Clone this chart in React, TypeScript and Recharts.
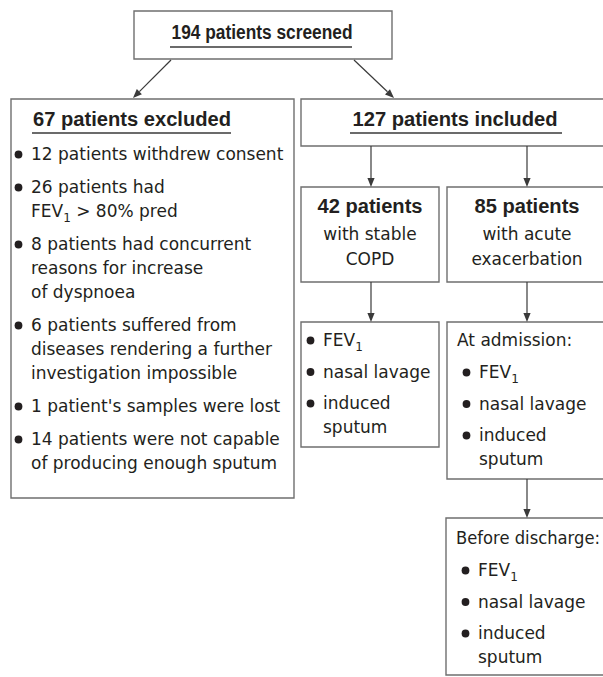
import React from 'react';
import { ComposedChart, XAxis, YAxis, Scatter, ReferenceArea, ReferenceLine } from 'recharts';

// ---- content ----
const screenedTitle = '194 patients screened';
const excludedTitle = '67 patients excluded';
const excludedReasons: string[][] = [
  ['12 patients withdrew consent'],
  ['26 patients had', 'FEV_1 > 80% pred'],
  ['8 patients had concurrent', 'reasons for increase', 'of dyspnoea'],
  ['6 patients suffered from', 'diseases rendering a further', 'investigation impossible'],
  ["1 patient's samples were lost"],
  ['14 patients were not capable', 'of producing enough sputum'],
];
const includedTitle = '127 patients included';
const groupTitles = ['42 patients', '85 patients'];
const groupSubtitles: string[][] = [
  ['with stable', 'COPD'],
  ['with acute', 'exacerbation'],
];
const measureItems: string[][] = [['FEV_1'], ['nasal lavage'], ['induced', 'sputum']];
const visitLabels = ['At admission:', 'Before discharge:'];

// ---- layout (drawing coordinates, in the chart's own data units) ----
const W = 603;
const H = 677;

type Box = { x1: number; x2: number; y1: number; y2: number };
const boxes: Box[] = [
  { x1: 134, x2: 392, y1: 11, y2: 59 },
  { x1: 11, x2: 294, y1: 99, y2: 498 },
  { x1: 301, x2: 640, y1: 99, y2: 146 },
  { x1: 301, x2: 439, y1: 187, y2: 282 },
  { x1: 447, x2: 640, y1: 187, y2: 282 },
  { x1: 301, x2: 439, y1: 322, y2: 447 },
  { x1: 447, x2: 640, y1: 322, y2: 479 },
  { x1: 446, x2: 640, y1: 518, y2: 675 },
];

type Seg = [number, number, number, number];
const arrows: Seg[] = [
  [171, 60, 133, 98],
  [354, 60, 394, 98],
  [371, 146, 371, 187],
  [527, 146, 527, 187],
  [371, 282, 371, 322],
  [527, 282, 527, 322],
  [527, 479, 527, 518],
];
const underlines: Seg[] = [
  [170, 47, 352, 47],
  [32, 133, 231, 133],
  [350, 133, 562, 133],
];

type Row = {
  x: number;
  y: number;
  text: string;
  bold?: boolean;
  anchor?: 'start' | 'middle';
  bullet?: boolean;
  len?: number;
};

const rows: Row[] = [];
rows.push({ x: 262, y: 39, text: screenedTitle, bold: true, anchor: 'middle', len: 181 });
rows.push({ x: 33, y: 126, text: excludedTitle, bold: true, len: 198 });
rows.push({ x: 455, y: 126, text: includedTitle, bold: true, anchor: 'middle', len: 205 });

{
  let y = 160;
  excludedReasons.forEach((item) => {
    item.forEach((line, i) => {
      rows.push({ x: 31, y, text: line, bullet: i === 0 });
      y += 24;
    });
    y += 9;
  });
}

const groupCenters = [370, 527];
groupTitles.forEach((t, g) => {
  rows.push({ x: groupCenters[g], y: 213, text: t, bold: true, anchor: 'middle', len: 105 });
  groupSubtitles[g].forEach((s, i) => {
    rows.push({ x: groupCenters[g], y: 240 + i * 25, text: s, anchor: 'middle' });
  });
});

function pushMeasures(x: number, y0: number) {
  let y = y0;
  measureItems.forEach((item) => {
    item.forEach((line, i) => {
      rows.push({ x, y, text: line, bullet: i === 0 });
      y += 24;
    });
    y += 7.5;
  });
}
pushMeasures(323, 346);
rows.push({ x: 457, y: 346, text: visitLabels[0] });
pushMeasures(479, 378);
rows.push({ x: 456, y: 544, text: visitLabels[1], len: 144 });
pushMeasures(478, 576);

// ---- rendering ----
const TEXT = '#231f20';
const LINE = '#3a3a3a';
const BOX = '#6f6f6f';

function renderContent(text: string) {
  const idx = text.indexOf('_1');
  if (idx < 0) return text;
  return [
    <tspan key="a">{text.slice(0, idx)}</tspan>,
    <tspan key="b" dy={5} fontSize={12}>1</tspan>,
    <tspan key="c" dy={-5}>{text.slice(idx + 2)}</tspan>,
  ];
}

const TextShape = (props: any) => {
  const { cx, cy, payload } = props;
  const r: Row = payload;
  if (cx == null || cy == null) return <g />;
  return (
    <g>
      {r.bullet && <circle cx={cx - 12.5} cy={cy - 5.5} r={3.9} fill={TEXT} />}
      <text
        x={cx}
        y={cy}
        textAnchor={r.anchor || 'start'}
        fill={TEXT}
        fontFamily={r.bold ? '"Liberation Sans", Arial, sans-serif' : '"DejaVu Sans", sans-serif'}
        fontWeight={r.bold ? 700 : 400}
        fontSize={r.bold ? 20 : 17}
        textLength={r.len}
        lengthAdjust={r.len ? 'spacingAndGlyphs' : undefined}
      >
        {renderContent(r.text)}
      </text>
    </g>
  );
};

const ArrowShape = (props: any) => {
  const { x1, y1, x2, y2 } = props;
  const dx = x2 - x1;
  const dy = y2 - y1;
  const len = Math.sqrt(dx * dx + dy * dy) || 1;
  const ux = dx / len;
  const uy = dy / len;
  const hl = 9;
  const hw = 3.6;
  const bx = x2 - ux * hl;
  const by = y2 - uy * hl;
  const pts = `${x2},${y2} ${bx - uy * hw},${by + ux * hw} ${bx + uy * hw},${by - ux * hw}`;
  return (
    <g>
      <line x1={x1} y1={y1} x2={bx} y2={by} stroke={LINE} strokeWidth={1.2} />
      <polygon points={pts} fill={LINE} />
    </g>
  );
};

export default function App() {
  return (
    <div style={{ position: 'absolute', left: 0, top: 0, width: W, height: H, background: '#fff' }}>
      <ComposedChart width={W} height={H} margin={{ top: 0, right: 0, bottom: 0, left: 0 }}>
        <XAxis type="number" dataKey="x" domain={[0, W]} hide allowDataOverflow />
        <YAxis type="number" dataKey="y" domain={[0, H]} reversed hide width={0} allowDataOverflow />
        {boxes.map((b, i) => (
          <ReferenceArea
            key={`b${i}`}
            x1={b.x1}
            x2={b.x2}
            y1={b.y1}
            y2={b.y2}
            fill="none"
            fillOpacity={0}
            stroke={BOX}
            strokeWidth={1.4}
            ifOverflow="visible"
          />
        ))}
        {underlines.map((s, i) => (
          <ReferenceLine
            key={`u${i}`}
            segment={[{ x: s[0], y: s[1] }, { x: s[2], y: s[3] }]}
            stroke={LINE}
            strokeWidth={1.5}
            ifOverflow="visible"
          />
        ))}
        {arrows.map((s, i) => (
          <ReferenceLine
            key={`a${i}`}
            segment={[{ x: s[0], y: s[1] }, { x: s[2], y: s[3] }]}
            shape={ArrowShape}
            ifOverflow="visible"
          />
        ))}
        <Scatter data={rows} dataKey="y" shape={TextShape} isAnimationActive={false} />
      </ComposedChart>
    </div>
  );
}
